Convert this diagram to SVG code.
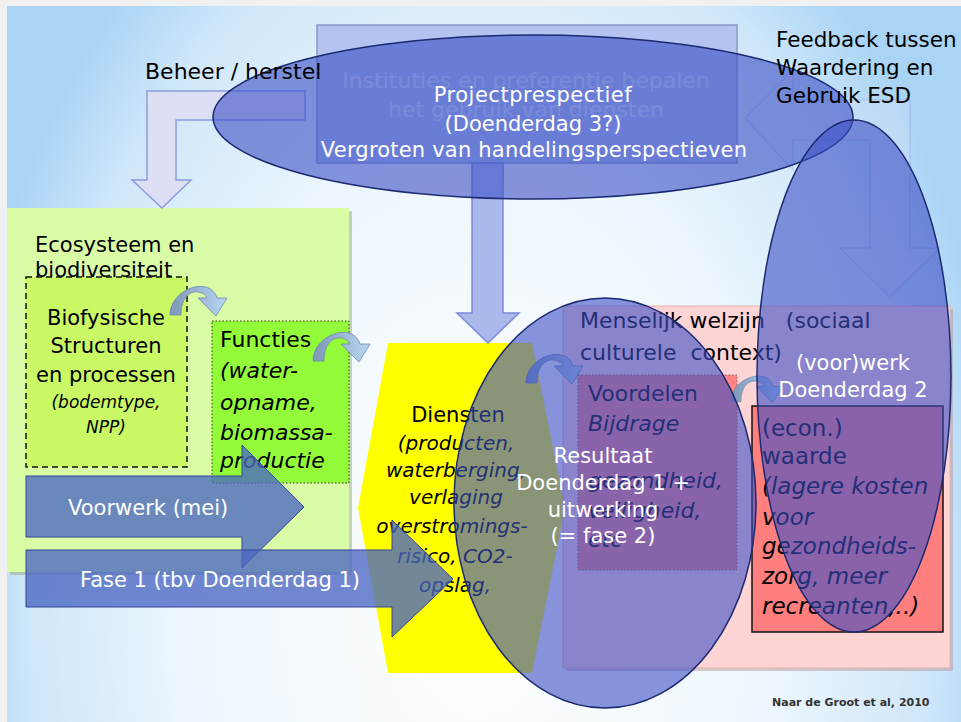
<svg xmlns="http://www.w3.org/2000/svg" width="961" height="722" viewBox="0 0 961 722" font-size="20">
<defs>
<radialGradient id="bg" gradientUnits="userSpaceOnUse" cx="0" cy="0" r="1" gradientTransform="translate(480 600) scale(530 820)">
<stop offset="0" stop-color="#ffffff"/>
<stop offset="0.55" stop-color="#eef7fd"/>
<stop offset="0.85" stop-color="#cfe7fa"/>
<stop offset="1" stop-color="#aad4f5"/>
</radialGradient>
<linearGradient id="cg" x1="0" y1="0" x2="1" y2="0">
<stop offset="0" stop-color="#7f96b6"/>
<stop offset="1" stop-color="#b8d8f4"/>
</linearGradient>
<path id="curve" d="M0,32 C0,6 40,-8 47,15 L57,15 L46,33 L28,15 L37,15 C32,5 11,5 11,32 Z"/>
</defs>
<style>
text{font-family:"DejaVu Sans","Liberation Sans",sans-serif}
.it{font-style:italic}
.w{fill:#ffffff}
.c{text-anchor:middle}
.ell{fill:#3a4ec4;fill-opacity:0.6;stroke:#1c2a70;stroke-width:1.5}
.blk{fill:#4a66c2;fill-opacity:0.78;stroke:#33479a;stroke-width:1}
.carrow{fill:url(#cg);stroke:#7088aa;stroke-width:0.8}
.pale{fill:#dde0f5;stroke:#8c9ae0;stroke-width:1.5}
</style>
<rect x="0" y="0" width="961" height="722" fill="#f1f1f1"/>
<rect x="7" y="6" width="954" height="716" fill="url(#bg)"/>

<g id="institutions">
<rect x="317" y="25" width="420" height="138" fill="#b2c4ef" stroke="#8a98c8" stroke-width="1.5"/>
<text class="c w" x="526" y="88" font-size="22" fill-opacity="0.55">Instituties en preferentie bepalen</text>
<text class="c w" x="526" y="117" font-size="22" fill-opacity="0.55">het gebruik van diensten</text>
</g>

<g id="ecosysteem">
<rect x="10" y="211" width="342" height="364" fill="#9aa880" opacity="0.5"/>
<rect x="7" y="208" width="342" height="364" fill="#dbfca6"/>
<text x="35" y="252" font-size="21">Ecosysteem en</text>
<text x="35" y="277" font-size="21">biodiversiteit</text>
</g>

<g id="biofysisch">
<rect x="26" y="277" width="161" height="190" fill="#c9fa66" stroke="#111" stroke-width="1.5" stroke-dasharray="6 4"/>
<text class="c" x="106" y="325" font-size="21">Biofysische</text>
<text class="c" x="106" y="353" font-size="21">Structuren</text>
<text class="c" x="106" y="382" font-size="21">en processen</text>
<text class="c it" x="106" y="408" font-size="17">(bodemtype,</text>
<text class="c it" x="106" y="433" font-size="17">NPP)</text>
</g>

<g id="functies">
<rect x="212" y="321" width="137" height="162" fill="#94fb3a" stroke="#333" stroke-width="1" stroke-dasharray="1.5 2"/>
<text x="220" y="347" font-size="22">Functies</text>
<text class="it" x="220" y="378" font-size="22">(water-</text>
<text class="it" x="220" y="410" font-size="22">opname,</text>
<text class="it" x="220" y="440" font-size="22">biomassa-</text>
<text class="it" x="220" y="468" font-size="22">productie</text>
</g>

<g id="diensten">
<polygon points="388,343 532,343 565,508 532,673 388,673 358,508" fill="#ffff00"/>
<text class="c" x="458" y="422" font-size="21">Diensten</text>
<text class="c it" x="456" y="450">(producten,</text>
<text class="c it" x="456" y="477">waterberging,</text>
<text class="c it" x="456" y="504">verlaging</text>
<text class="c it" x="452" y="533">overstromings-</text>
<text class="c it" x="455" y="563">risico, CO2-</text>
<text class="c it" x="455" y="592">opslag,</text>
</g>

<g id="welzijn">
<rect x="566" y="309" width="387" height="362" fill="#b09090" opacity="0.45"/>
<rect x="563" y="306" width="387" height="362" fill="#ffd4d4" stroke="#e2b2b2" stroke-width="1"/>
<text x="580" y="328" font-size="22" xml:space="preserve">Menselijk welzijn   (sociaal</text>
<text x="580" y="360" font-size="22" xml:space="preserve">culturele  context)</text>
</g>

<g id="voordelen">
<rect x="578" y="375" width="159" height="195" fill="#ff8585" stroke="#666" stroke-width="1" stroke-dasharray="1.5 2"/>
<text x="588" y="401" font-size="22">Voordelen</text>
<text class="it" x="588" y="431" font-size="22">Bijdrage</text>
<text class="it" x="588" y="488" font-size="22">gezondheid,</text>
<text class="it" x="588" y="518" font-size="22">veiligheid,</text>
<text class="it" x="588" y="547" font-size="22">etc</text>
</g>

<g id="waarde">
<rect x="752" y="406" width="191" height="226" fill="#ff7f7f" stroke="#111" stroke-width="1.5"/>
<text x="762" y="436" font-size="23">(econ.)</text>
<text x="762" y="464" font-size="23">waarde</text>
<text class="it" x="762" y="494" font-size="23">(lagere kosten</text>
<text class="it" x="762" y="525" font-size="23">voor</text>
<text class="it" x="762" y="554" font-size="23">gezondheids-</text>
<text class="it" x="762" y="584" font-size="23">zorg, meer</text>
<text class="it" x="762" y="614" font-size="23">recreanten,..)</text>
</g>

<g id="connectors">
<path class="pale" d="M305,91 L147,91 L147,180 L132,180 L162,208 L191,180 L176,180 L176,120 L305,120 Z"/>
<path class="pale" d="M745,118 L793,70 L793,100 L910,100 L910,248 L940,248 L890,297 L840,248 L870,248 L870,140 L793,140 L793,170 Z" opacity="0.3"/>
<path d="M472,163 L503,163 L503,313 L519,313 L488,343 L457,313 L472,313 Z" fill="#aab8ec" stroke="#7b8bd8" stroke-width="1.5"/>
<use href="#curve" class="carrow" transform="translate(170 283)"/>
<use href="#curve" class="carrow" transform="translate(313 329)"/>
<use href="#curve" class="carrow" transform="translate(526 351)"/>
<use href="#curve" class="carrow" transform="translate(731 373) scale(0.9)"/>
</g>

<g id="voorwerk">
<polygon class="blk" points="26,476 242,476 242,445 304,507 242,568 242,537 26,537"/>
<text class="w" x="68" y="515" font-size="21">Voorwerk (mei)</text>
</g>

<g id="fase1">
<polygon class="blk" points="26,550 392,550 392,520 453,579 392,637 392,607 26,607" fill-opacity="0.62"/>
<text class="w" x="80" y="587" font-size="21">Fase 1 (tbv Doenderdag 1)</text>
</g>

<g id="projectperspectief">
<ellipse class="ell" cx="533" cy="117" rx="320" ry="82"/>
</g>
<g id="voorwerk2">
<ellipse class="ell" cx="854" cy="376" rx="97" ry="256"/>
</g>
<g id="resultaat">
<ellipse class="ell" cx="605" cy="503" rx="151" ry="205"/>
</g>

<g id="ellipse-labels">
<text class="c w" x="533" y="102" font-size="21" letter-spacing="0.5">Projectprespectief</text>
<text class="c w" x="533" y="131" font-size="21">(Doenderdag 3?)</text>
<text class="c w" x="534" y="157" font-size="21" letter-spacing="0.2">Vergroten van handelingsperspectieven</text>
<text class="c w" x="603" y="463" font-size="21">Resultaat</text>
<text class="c w" x="603" y="490" font-size="21">Doenderdag 1 +</text>
<text class="c w" x="603" y="517" font-size="21">uitwerking</text>
<text class="c w" x="603" y="543" font-size="21">(= fase 2)</text>
<text class="c w" x="853" y="370" font-size="21">(voor)werk</text>
<text class="c w" x="853" y="397" font-size="21">Doenderdag 2</text>
</g>

<g id="labels">
<text x="145" y="79" font-size="22">Beheer / herstel</text>
<text x="776" y="47" font-size="21.5">Feedback tussen</text>
<text x="776" y="75" font-size="21.5">Waardering en</text>
<text x="776" y="103" font-size="21.5">Gebruik ESD</text>
<text x="772" y="706" font-size="11" font-weight="bold" fill="#333">Naar de Groot et al, 2010</text>
</g>
</svg>
